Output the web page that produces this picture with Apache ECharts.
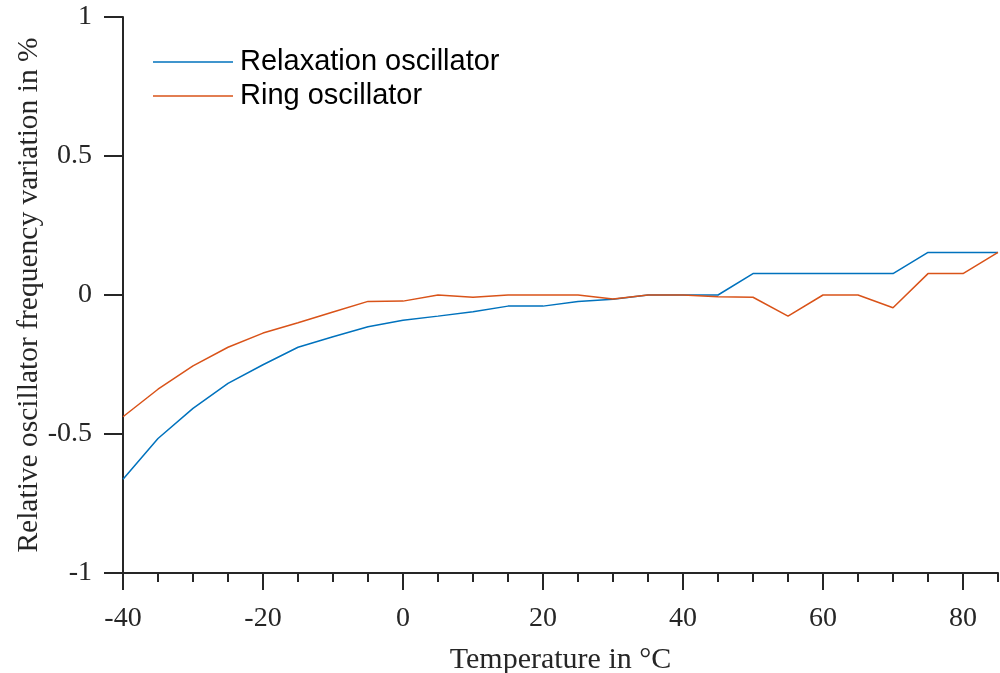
<!DOCTYPE html>
<html>
<head>
<meta charset="utf-8">
<script src="https://cdn.jsdelivr.net/npm/echarts@6/dist/echarts.min.js"></script>
<style>
  html, body { margin: 0; padding: 0; background: #fff; }
  #chart { width: 1000px; height: 673px; }
</style>
</head>
<body>
<div id="chart"></div>
<script>
// Temperature sweep (°C)
const temperatures = [-40, -35, -30, -25, -20, -15, -10, -5, 0, 5, 10, 15, 20, 25, 30, 35, 40, 45, 50, 55, 60, 65, 70, 75, 80, 85];
// Relative frequency variation (%)
const relaxationOsc = [-0.663, -0.516, -0.408, -0.318, -0.251, -0.188, -0.150, -0.114, -0.091, -0.076, -0.060, -0.040, -0.040, -0.023, -0.015, 0, 0, 0, 0.077, 0.077, 0.077, 0.077, 0.077, 0.153, 0.153, 0.153];
const ringOsc = [-0.438, -0.339, -0.255, -0.188, -0.137, -0.100, -0.061, -0.023, -0.022, 0, -0.008, 0, 0, 0, -0.014, 0, 0, -0.006, -0.008, -0.076, 0, 0, -0.046, 0.077, 0.077, 0.153];
const xMajorTicks = [-40, -20, 0, 20, 40, 60, 80];
const seriesNames = ['Relaxation oscillator', 'Ring oscillator'];

const AXIS = '#262626';
const SERIF = 'Liberation Serif';
const FS = 28;

const pairs = (ys) => temperatures.map((t, i) => [t, ys[i]]);

const chart = echarts.init(document.getElementById('chart'), null, { renderer: 'canvas' });
chart.setOption({
  animation: false,
  backgroundColor: '#ffffff',
  grid: { left: 123, right: 2, top: 17, bottom: 100, containLabel: false, outerBoundsMode: 'none' },
  legend: {
    orient: 'vertical',
    left: 153,
    top: 45,
    padding: 0,
    itemGap: 0,
    itemWidth: 80,
    itemHeight: 1.5,
    icon: 'rect',
    data: seriesNames,
    textStyle: {
      fontFamily: 'Liberation Sans',
      fontSize: 29,
      color: '#000',
      lineHeight: 34,
      padding: [0, 0, 0, 2]
    }
  },
  xAxis: [
    {
      // minor ticks every 5 °C plus the axis line and title
      type: 'value',
      position: 'bottom',
      min: -40, max: 85, interval: 5,
      name: 'Temperature in °C',
      nameLocation: 'middle',
      nameGap: 72,
      nameMoveOverlap: false,
      nameTextStyle: { fontFamily: SERIF, fontSize: 30, color: AXIS },
      axisLine: { show: true, onZero: false, lineStyle: { color: AXIS, width: 2 } },
      axisTick: { show: true, length: 9, lineStyle: { color: AXIS, width: 2 } },
      axisLabel: { show: false },
      splitLine: { show: false }
    },
    {
      // major ticks and labels every 20 °C
      type: 'value',
      position: 'bottom',
      min: -40, max: 85, interval: 20,
      axisLine: { show: false, onZero: false },
      axisTick: { show: true, length: 17, customValues: xMajorTicks, lineStyle: { color: AXIS, width: 2 } },
      axisLabel: {
        show: true, customValues: xMajorTicks, margin: 32,
        fontFamily: SERIF, fontSize: FS, color: AXIS
      },
      splitLine: { show: false }
    }
  ],
  yAxis: {
    type: 'value',
    min: -1, max: 1, interval: 0.5,
    name: 'Relative oscillator frequency variation in %',
    nameLocation: 'middle',
    nameGap: 79,
    nameMoveOverlap: false,
    nameTextStyle: { fontFamily: SERIF, fontSize: 29.5, color: AXIS },
    axisLine: { show: true, onZero: false, lineStyle: { color: AXIS, width: 2 } },
    axisTick: { show: true, length: 19, lineStyle: { color: AXIS, width: 2 } },
    axisLabel: { margin: 31, fontFamily: SERIF, fontSize: FS, color: AXIS },
    splitLine: { show: false }
  },
  series: [
    {
      name: seriesNames[0],
      type: 'line',
      xAxisIndex: 0,
      data: pairs(relaxationOsc),
      showSymbol: false,
      symbol: 'none',
      color: '#0072BD',
      lineStyle: { color: '#0072BD', width: 1.5 }
    },
    {
      name: seriesNames[1],
      type: 'line',
      xAxisIndex: 0,
      data: pairs(ringOsc),
      showSymbol: false,
      symbol: 'none',
      color: '#D95319',
      lineStyle: { color: '#D95319', width: 1.5 }
    }
  ]
});
</script>
</body>
</html>
